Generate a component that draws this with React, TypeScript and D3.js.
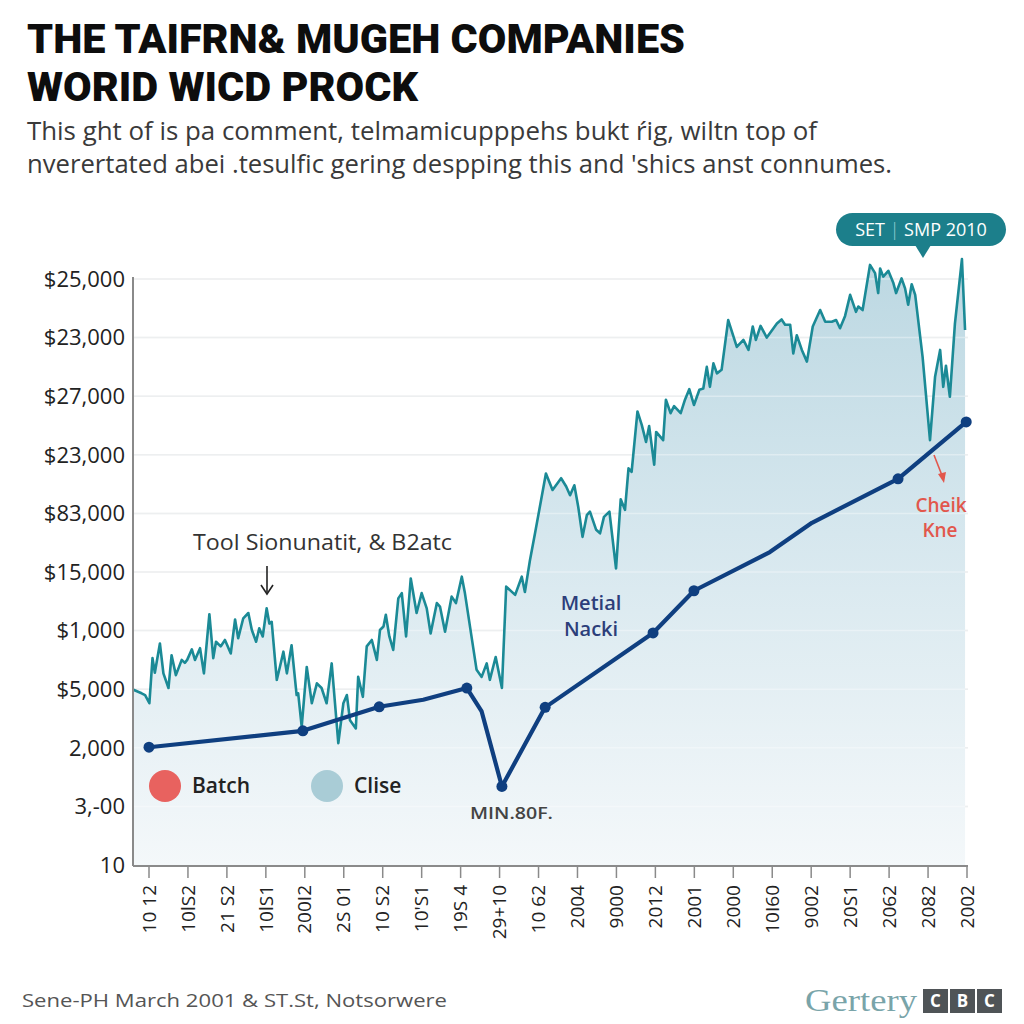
import React from 'react';
import * as d3 from 'd3';

const titleLines = ['THE TAIFRN& MUGEH COMPANIES', 'WORID WICD PROCK'];
const subtitleLines = [
  'This ght of is pa comment, telmamicupppehs bukt ŕig, wiltn top of',
  "nverertated abei .tesulfic gering despping this and 'shics anst connumes.",
];
const footerText = 'Sene-PH March 2001 & ST.St, Notsorwere';

// y tick labels, bottom to top
const yTickLabels = ['10', '3,-00', '2,000', '$5,000', '$1,000', '$15,000', '$83,000', '$23,000', '$27,000', '$23,000', '$25,000'];
const xTickLabels = ['10 12', '10lS2', '21 S2', '10lS1', '200I2', '2S 01', '10 S2', "10'S1", '19S 4', '29+10', '10 62', '2004', '9000', '2012', '2001', '2000', '10I60', '9002', '20S1', '2062', '2082', '2002'];

// Close series: [period, level]
const closeSeries: [number, number][] = [
  [-0.4, 2.99], [-0.19, 2.93], [-0.1, 2.9], [0.01, 2.76], [0.09, 3.53], [0.15, 3.28], [0.28, 3.78], [0.37, 3.27],
  [0.5, 3.02], [0.58, 3.58], [0.69, 3.24], [0.84, 3.5], [0.92, 3.45], [0.98, 3.5], [1.1, 3.68], [1.18, 3.5],
  [1.31, 3.7], [1.41, 3.27], [1.55, 4.28], [1.65, 3.53], [1.72, 3.81], [1.84, 3.73], [1.95, 3.84], [2.1, 3.61],
  [2.21, 4.19], [2.29, 3.87], [2.42, 4.21], [2.55, 4.3], [2.64, 4.01], [2.75, 3.81], [2.83, 4.04], [2.92, 3.9],
  [3.02, 4.38], [3.09, 4.12], [3.15, 4.15], [3.28, 3.16], [3.36, 3.38], [3.45, 3.64], [3.54, 3.27], [3.66, 3.75],
  [3.79, 2.9], [3.83, 2.93], [3.92, 2.36], [4.05, 3.38], [4.18, 2.76], [4.31, 3.1], [4.43, 3.02], [4.56, 2.76],
  [4.69, 3.44], [4.86, 2.08], [4.99, 2.76], [5.08, 2.9], [5.16, 2.47], [5.31, 2.33], [5.37, 3.21], [5.49, 2.87],
  [5.59, 3.73], [5.72, 3.84], [5.85, 3.5], [5.93, 4.01], [6.02, 4.07], [6.08, 4.27], [6.17, 3.9], [6.27, 3.67],
  [6.4, 4.55], [6.49, 4.64], [6.6, 3.9], [6.72, 4.89], [6.87, 4.3], [7.0, 4.64], [7.13, 4.38], [7.23, 3.95],
  [7.39, 4.47], [7.47, 4.41], [7.6, 3.98], [7.77, 4.58], [7.88, 4.47], [8.03, 4.92], [8.11, 4.64], [8.41, 3.33],
  [8.54, 3.21], [8.67, 3.44], [8.75, 3.16], [8.9, 3.55], [9.06, 3.02], [9.17, 4.75], [9.4, 4.61], [9.57, 4.92],
  [9.65, 4.66], [9.78, 5.2], [9.91, 5.66], [10.19, 6.68], [10.36, 6.4], [10.58, 6.6], [10.71, 6.46], [10.81, 6.31],
  [10.92, 6.48], [11.02, 6.11], [11.13, 5.6], [11.24, 5.97], [11.32, 6.03], [11.48, 5.72], [11.58, 5.66], [11.68, 5.94],
  [11.82, 6.03], [11.99, 5.06], [12.11, 6.24], [12.22, 6.06], [12.31, 6.77], [12.39, 6.71], [12.54, 7.74], [12.65, 7.51],
  [12.76, 7.22], [12.84, 7.49], [12.97, 6.83], [13.02, 7.39], [13.2, 7.25], [13.27, 7.94], [13.39, 7.71], [13.48, 7.83],
  [13.65, 7.71], [13.76, 7.94], [13.87, 8.12], [13.99, 7.85], [14.13, 8.11], [14.23, 8.13], [14.32, 8.5], [14.4, 8.16],
  [14.49, 8.56], [14.58, 8.39], [14.7, 8.45], [14.87, 9.3], [15.09, 8.84], [15.26, 8.96], [15.39, 8.79], [15.5, 9.19],
  [15.58, 8.96], [15.7, 9.2], [15.86, 9.0], [16.12, 9.24], [16.24, 9.31], [16.33, 9.22], [16.46, 9.22], [16.54, 8.73],
  [16.63, 9.04], [16.76, 8.79], [16.89, 8.59], [17.04, 9.19], [17.23, 9.47], [17.36, 9.27], [17.53, 9.27], [17.64, 9.3],
  [17.74, 9.16], [17.87, 9.37], [18.0, 9.73], [18.15, 9.44], [18.21, 9.53], [18.32, 9.47], [18.51, 10.24], [18.64, 10.1],
  [18.72, 9.76], [18.77, 10.18], [18.85, 10.04], [18.98, 10.14], [19.11, 9.93], [19.18, 9.76], [19.32, 10.01], [19.41, 9.84],
  [19.49, 9.56], [19.58, 9.91], [19.67, 9.73], [19.86, 8.67], [20.05, 7.25], [20.18, 8.33], [20.31, 8.79], [20.39, 8.16],
  [20.46, 8.52], [20.56, 7.99], [20.69, 9.24], [20.87, 10.34], [20.95, 9.13],
];

// Batch series: [period, level, marker]
const batchSeries: [number, number, number][] = [
  [0, 2.01, 1], [3.95, 2.29, 1], [5.91, 2.7, 1], [7.04, 2.82, 0], [8.16, 3.02, 1], [8.54, 2.62, 0],
  [9.06, 1.34, 1], [10.17, 2.69, 1], [12.94, 3.96, 1], [13.99, 4.68, 1], [15.94, 5.34, 0], [17.02, 5.84, 0],
  [19.23, 6.59, 1], [20.98, 7.56, 1],
];

const legendItems = [
  { label: 'Batch', color: '#e8625f' },
  { label: 'Clise', color: '#a9ccd6' },
];

const FONT = "'Open Sans', 'Noto Sans', sans-serif";

export default function App() {
  const W = 1024;
  const H = 1024;
  const left = 133;
  const right = 968;
  const x = d3.scaleLinear().domain([0, 21]).range([149, 967]);
  const y = d3.scaleLinear().domain([0, 10]).range([865, 279]);
  const bottom = y(0);

  const area = d3.area<[number, number]>().x((d) => x(d[0])).y0(bottom).y1((d) => y(d[1]));
  const closeLine = d3.line<[number, number]>().x((d) => x(d[0])).y((d) => y(d[1]));
  const batchLine = d3.line<[number, number, number]>().x((d) => x(d[0])).y((d) => y(d[1]));

  return (
    <svg width={W} height={H} style={{ position: 'absolute', left: 0, top: 0, background: '#fff' }} fontFamily={FONT}>
      <defs>
        <linearGradient id="fillGrad" gradientUnits="userSpaceOnUse" x1="0" y1="260" x2="0" y2="866">
          <stop offset="0" stopColor="#bcd8e2" />
          <stop offset="0.45" stopColor="#d6e7ee" />
          <stop offset="1" stopColor="#f4f8fa" />
        </linearGradient>
      </defs>
      <rect x={0} y={0} width={W} height={H} fill="#fff" />

      {/* title */}
      {titleLines.map((t, i) => (
        <text key={t} x={27} y={53 + i * 48} fontFamily="Roboto, 'Liberation Sans', sans-serif" fontWeight={900}
          fontSize={40} fill="#0d0d0d" textLength={i === 0 ? 658 : 391} lengthAdjust="spacingAndGlyphs">{t}</text>
      ))}
      {subtitleLines.map((t, i) => (
        <text key={t} x={27} y={140 + i * 33} fontSize={25} fill="#3a3a3a"
          textLength={i === 0 ? 790 : 865} lengthAdjust="spacingAndGlyphs">{t}</text>
      ))}

      {/* gridlines */}
      {yTickLabels.map((lab, i) => (
        <g key={i}>
          {i > 0 && <line x1={left} x2={right} y1={y(i)} y2={y(i)} stroke="#e4e6e8" strokeWidth={1.5} />}
          <text x={125} y={y(i)} dy="0.35em" textAnchor="end" fontSize={22} fill="#222">{lab}</text>
        </g>
      ))}

      {/* area and lines */}
      <path d={area(closeSeries) || ''} fill="url(#fillGrad)" />
      {yTickLabels.map((_, i) => i > 0 && (
        <line key={'g2' + i} x1={left} x2={right} y1={y(i)} y2={y(i)} stroke="#ffffff" strokeOpacity={0.35} strokeWidth={1.5} />
      ))}
      <path d={closeLine(closeSeries) || ''} fill="none" stroke="#1b8a96" strokeWidth={2.6} strokeLinejoin="round" />
      <path d={batchLine(batchSeries) || ''} fill="none" stroke="#0f3f80" strokeWidth={4.2} strokeLinejoin="round" strokeLinecap="round" />
      {batchSeries.filter((d) => d[2] === 1).map((d, i) => (
        <circle key={i} cx={x(d[0])} cy={y(d[1])} r={5.5} fill="#0f3f80" />
      ))}

      {/* axes */}
      <line x1={left} x2={left} y1={277} y2={bottom + 1} stroke="#8a8a8a" strokeWidth={2} />
      <line x1={left} x2={right} y1={bottom + 1} y2={bottom + 1} stroke="#8a8a8a" strokeWidth={2} />
      {xTickLabels.map((lab, i) => (
        <g key={lab + i} transform={`translate(${x(i)},${bottom + 1})`}>
          <line y1={0} y2={12} stroke="#8a8a8a" strokeWidth={1.5} />
          <text transform="rotate(-90)" x={-19} y={0} dy="0.35em" textAnchor="end" fontSize={19} fill="#222">{lab}</text>
        </g>
      ))}

      {/* annotation: Tool */}
      <text x={193} y={543} dy="0.35em" fontSize={21} fill="#333" textLength={259} lengthAdjust="spacingAndGlyphs">Tool Sionunatit, &amp; B2atc</text>
      <line x1={267} x2={267} y1={566} y2={592} stroke="#222" strokeWidth={1.6} />
      <path d="M261,585 L267,594 L273,585" fill="none" stroke="#222" strokeWidth={1.6} />

      {/* annotation: Metial Nacki */}
      <text x={591} y={603} dy="0.35em" textAnchor="middle" fontSize={20} fontWeight={600} fill="#2c3e7a">Metial</text>
      <text x={591} y={629} dy="0.35em" textAnchor="middle" fontSize={20} fontWeight={600} fill="#2c3e7a">Nacki</text>

      {/* annotation: MIN */}
      <text x={470} y={813} dy="0.35em" fontSize={17} fontWeight={600} fill="#444" textLength={83} lengthAdjust="spacingAndGlyphs">MIN.80F.</text>

      {/* annotation: Cheik Kne */}
      <line x1={934} y1={455} x2={943} y2={478} stroke="#e2574c" strokeWidth={1.6} />
      <path d="M938,474 L944,483 L946,472 Z" fill="#e2574c" />
      <text x={941} y={505} dy="0.35em" textAnchor="middle" fontSize={19} fontWeight={600} fill="#e2574c">Cheik</text>
      <text x={940} y={530} dy="0.35em" textAnchor="middle" fontSize={19} fontWeight={600} fill="#e2574c">Kne</text>

      {/* callout */}
      <rect x={836} y={213} width={170} height={33} rx={16.5} fill="#1c7f8b" />
      <path d="M915,245 L923,258 L931,245 Z" fill="#1c7f8b" />
      <text x={921} y={229.5} dy="0.35em" textAnchor="middle" fontSize={18} fill="#fff">
        SET<tspan fill="#9fd0d6" fontWeight={300}> | </tspan>SMP 2010
      </text>

      {/* legend */}
      {legendItems.map((it, i) => (
        <g key={it.label} transform={`translate(${165 + i * 162},786)`}>
          <circle r={16} fill={it.color} />
          <text x={27} dy="0.35em" fontSize={21} fontWeight={600} fill="#222">{it.label}</text>
        </g>
      ))}

      {/* footer */}
      <text x={22} y={1000} dy="0.35em" fontSize={19} fill="#555" textLength={425} lengthAdjust="spacingAndGlyphs">{footerText}</text>
      <text x={805} y={1000} dy="0.35em" fontFamily="'Liberation Serif', 'DejaVu Serif', serif" fontSize={31} fill="#79a4a9"
        textLength={112} lengthAdjust="spacingAndGlyphs">Gertery</text>
      {['C', 'B', 'C'].map((c, i) => (
        <g key={i} transform={`translate(${923 + i * 27},989)`}>
          <rect width={25} height={24} fill="#4f5457" />
          <text x={12.5} y={12} dy="0.36em" textAnchor="middle" fontSize={17} fontWeight={700} fill="#fff">{c}</text>
        </g>
      ))}
    </svg>
  );
}
